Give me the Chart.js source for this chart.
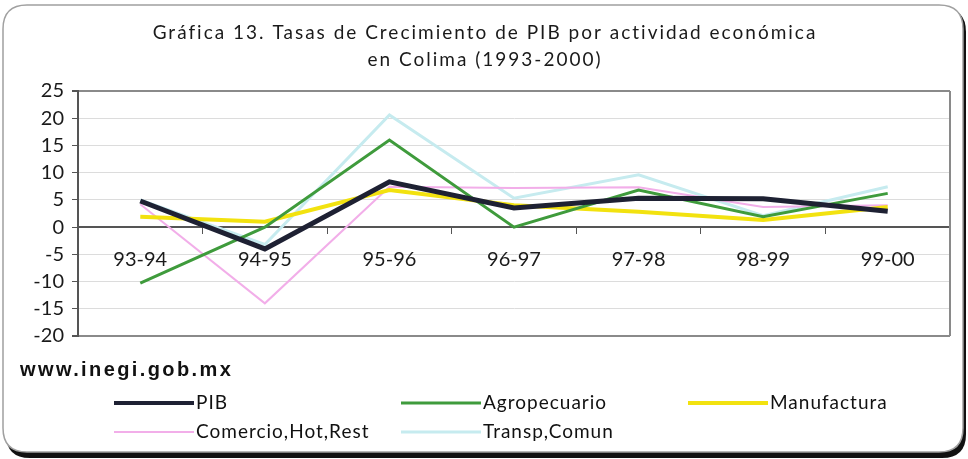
<!DOCTYPE html>
<html>
<head>
<meta charset="utf-8">
<script src="https://cdn.jsdelivr.net/npm/chart.js@4.4.1/dist/chart.umd.min.js"></script>
<style>
    html, body { margin: 0; padding: 0; background: #fff; }
    #wrap { width: 968px; height: 459px; }
</style>
</head>
<body>
<div id="wrap"><canvas id="pibChart" width="968" height="459"></canvas></div>
<script>
const categories = ['93-94', '94-95', '95-96', '96-97', '97-98', '98-99', '99-00'];
const pib = [4.8, -4.0, 8.3, 3.5, 5.3, 5.2, 2.9];
const agropecuario = [-10.3, 0.0, 16.0, 0.0, 6.8, 1.9, 6.2];
const manufactura = [1.9, 1.0, 6.8, 4.0, 2.8, 1.3, 3.7];
const comercio = [4.2, -14.0, 7.4, 7.2, 7.3, 3.7, 4.0];
const transporte = [5.0, -3.2, 20.6, 5.3, 9.6, 2.1, 7.4];
const yMin = -20, yMax = 25, yStep = 5;

const titleLines = ['Gráfica 13. Tasas de Crecimiento de PIB por actividad económica', 'en Colima (1993-2000)'];
const sourceText = 'www.inegi.gob.mx';

const baseFont = '"Lato", "Noto Sans", sans-serif';

function roundRect(ctx, x, y, w, h, r){
    ctx.beginPath();
    ctx.moveTo(x + r, y);
    ctx.lineTo(x + w - r, y);
    ctx.quadraticCurveTo(x + w, y, x + w, y + r);
    ctx.lineTo(x + w, y + h - r);
    ctx.quadraticCurveTo(x + w, y + h, x + w - r, y + h);
    ctx.lineTo(x + r, y + h);
    ctx.quadraticCurveTo(x, y + h, x, y + h - r);
    ctx.lineTo(x, y + r);
    ctx.quadraticCurveTo(x, y, x + r, y);
    ctx.closePath();
}

// frame, title, source, legend and right border of the plot
const decorPlugin = {
    id: 'decor',
    beforeDraw(chart){
        const ctx = chart.ctx;
        ctx.save();
        ctx.fillStyle = '#111';
        roundRect(ctx, 6, 8, 960, 450, 24);
        ctx.fill();
        ctx.fillStyle = '#fff';
        roundRect(ctx, 3, 5, 960, 447, 24);
        ctx.fill();
        ctx.strokeStyle = '#a0a0a0';
        ctx.lineWidth = 1.5;
        ctx.stroke();

        ctx.fillStyle = '#1a1a1a';
        ctx.textAlign = 'center';
        ctx.textBaseline = 'middle';
        ctx.font = '19px ' + baseFont;
        ctx.letterSpacing = '2px';
        ctx.fillText(titleLines[0], 485, 33);
        ctx.fillText(titleLines[1], 485, 60);
        ctx.restore();
    },
    afterDraw(chart){
        const ctx = chart.ctx;
        const area = chart.chartArea;
        ctx.save();
        ctx.strokeStyle = '#8a8a8a';
        ctx.lineWidth = 2;
        ctx.beginPath();
        ctx.moveTo(area.right, area.top);
        ctx.lineTo(area.right, area.bottom);
        ctx.stroke();

        ctx.fillStyle = '#111';
        ctx.textAlign = 'left';
        ctx.textBaseline = 'middle';
        ctx.font = '600 20px "Liberation Sans", sans-serif';
        ctx.letterSpacing = '2.4px';
        ctx.fillText(sourceText, 20, 370);

        let cols = [114, 401, 688];
        let rows = [403, 432];
        ctx.font = '19px ' + baseFont;
        ctx.letterSpacing = '1px';
        chart.data.datasets.forEach(function(ds, i){
            let x = cols[i % 3];
            let y = rows[Math.floor(i / 3)];
            ctx.strokeStyle = ds.borderColor;
            ctx.lineWidth = Math.min(ds.borderWidth, 4);
            ctx.beginPath();
            ctx.moveTo(x, y);
            ctx.lineTo(x + 80, y);
            ctx.stroke();
            ctx.fillStyle = '#111';
            ctx.fillText(ds.label, x + 82, y);
        });
        ctx.restore();
    }
};

let ctx = document.getElementById('pibChart').getContext('2d');
let pibChart = new Chart(ctx, {
    type: 'line',
    data: {
        labels: categories,
        datasets: [
            { label: 'PIB', data: pib, borderColor: '#1e2133', borderWidth: 5 },
            { label: 'Agropecuario', data: agropecuario, borderColor: '#3f9b3c', borderWidth: 3 },
            { label: 'Manufactura', data: manufactura, borderColor: '#f2e20f', borderWidth: 4 },
            { label: 'Comercio,Hot,Rest', data: comercio, borderColor: '#f2aee9', borderWidth: 2 },
            { label: 'Transp,Comun', data: transporte, borderColor: '#c6ebef', borderWidth: 3 }
        ]
    },
    options: {
        responsive: false,
        animation: false,
        maintainAspectRatio: false,
        layout: {
            padding: { top: 91, bottom: 123, left: 8, right: 18 }
        },
        elements: {
            point: { radius: 0 },
            line: { tension: 0, borderJoinStyle: 'miter', fill: false }
        },
        plugins: {
            legend: { display: false },
            title: { display: false },
            tooltip: { enabled: false }
        },
        scales: {
            x: {
                position: { y: 0 },
                offset: true,
                grid: {
                    offset: true,
                    drawOnChartArea: false,
                    drawTicks: true,
                    tickLength: 6,
                    color: '#555'
                },
                border: { display: true, color: '#555', width: 2 },
                ticks: {
                    color: '#1a1a1a',
                    padding: 14,
                    maxRotation: 0,
                    font: { family: baseFont, size: 20 }
                }
            },
            y: {
                min: yMin,
                max: yMax,
                ticks: {
                    stepSize: yStep,
                    color: '#1a1a1a',
                    padding: 8,
                    font: { family: baseFont, size: 20 }
                },
                grid: {
                    color: function(c){
                        if(c.tick && (c.tick.value === yMax || c.tick.value === yMin)) return '#8a8a8a';
                        return '#dcdcdc';
                    },
                    lineWidth: function(c){
                        if(c.tick && (c.tick.value === yMax || c.tick.value === yMin)) return 2;
                        return 1;
                    },
                    tickColor: '#555',
                    tickLength: 6
                },
                border: { display: true, color: '#555', width: 2 },
                afterFit(scale){
                    scale.width = 70;
                }
            }
        }
    },
    plugins: [decorPlugin]
});
</script>
</body>
</html>
